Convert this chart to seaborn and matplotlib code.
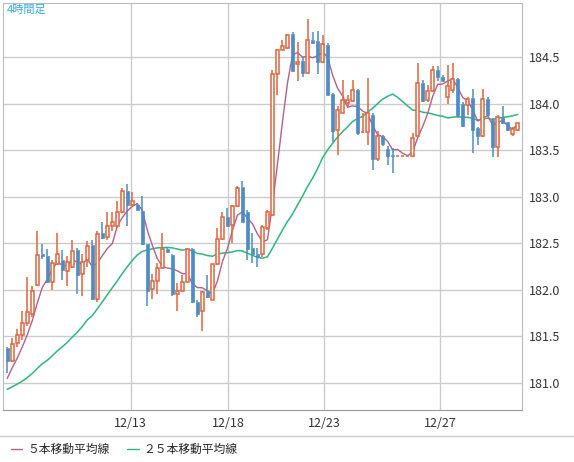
import numpy as np
import pandas as pd
import seaborn as sns
import matplotlib.pyplot as plt
from matplotlib.lines import Line2D

# 4時間足 OHLC
opens = [181.38,181.24,181.43,181.52,181.64,181.74,182.05,182.38,182.36,182.08,
         182.28,182.32,182.20,182.25,182.43,182.17,182.32,182.48,181.90,182.61,
         182.57,182.69,182.68,182.84,183.06,182.91,182.91,182.85,182.49,182.01,
         182.10,182.23,182.44,182.37,181.95,181.99,182.08,182.44,181.87,181.77,
         181.98,181.89,182.28,182.55,182.78,182.70,182.90,183.10,182.84,182.45,
         182.39,182.39,182.66,182.80,184.32,184.58,184.60,184.75,184.42,184.46,
         184.33,184.68,184.67,184.45,184.63,184.10,183.72,183.90,184.01,184.03,
         184.15,183.69,183.69,183.88,183.40,183.65,183.51,183.45,183.44,183.44,
         183.44,183.44,183.65,184.22,184.04,184.13,184.36,184.29,184.07,184.15,
         184.26,184.00,183.98,184.06,183.74,183.65,184.05,183.82,183.53,183.86,
         183.80,183.67,183.72]
highs = [181.39,181.48,181.58,181.77,182.14,182.04,182.63,182.49,182.44,182.32,
         182.61,182.43,182.36,182.54,182.45,182.38,182.52,182.54,182.63,182.73,
         182.84,182.84,182.95,183.09,183.14,183.05,182.93,183.01,182.49,182.17,
         182.29,182.61,182.45,182.38,182.07,182.16,182.45,182.45,181.89,181.99,
         182.16,182.28,182.66,182.84,182.88,182.91,183.12,183.17,182.86,182.61,
         182.45,182.70,182.86,184.36,184.59,184.68,184.75,184.77,184.66,184.50,
         184.91,184.77,184.78,184.74,184.65,184.11,183.97,184.25,184.09,184.25,
         184.16,183.90,184.27,183.90,183.70,183.66,183.54,183.52,183.44,183.44,
         183.44,183.68,184.43,184.25,184.20,184.40,184.40,184.31,184.41,184.43,
         184.27,184.02,184.07,184.16,183.75,184.16,184.07,183.84,183.88,183.97,
         183.80,183.75,183.79]
lows = [181.11,181.23,181.39,181.46,181.61,181.71,182.04,182.33,182.07,182.00,
        182.27,182.11,182.04,182.23,181.95,181.93,182.25,181.89,181.87,182.55,
        182.54,182.63,182.66,182.83,182.68,182.89,182.86,182.48,181.83,181.90,
        181.95,182.22,182.41,181.93,181.77,181.98,182.08,181.86,181.71,181.56,
        181.91,181.89,182.27,182.54,182.69,182.50,182.89,182.73,182.32,182.29,
        182.24,182.35,182.64,182.79,184.09,184.57,184.59,184.35,184.24,184.29,
        184.32,184.65,184.32,184.43,184.09,183.59,183.45,183.90,183.95,184.02,
        183.66,183.68,183.56,183.29,183.38,183.54,183.34,183.25,183.44,183.44,
        183.44,183.43,183.65,184.02,184.02,184.12,184.24,184.24,184.00,184.11,
        183.84,183.75,183.88,183.47,183.55,183.64,183.88,183.43,183.43,183.78,
        183.70,183.65,183.71]
closes = [181.24,181.42,181.52,181.64,181.76,181.99,182.37,182.36,182.08,182.29,
          182.39,182.21,182.30,182.42,182.16,182.30,182.47,181.90,182.60,182.56,
          182.69,182.73,182.84,183.06,182.91,182.95,182.86,182.49,181.99,182.10,
          182.23,182.44,182.41,181.95,181.99,182.08,182.44,181.87,181.74,181.98,
          181.92,182.28,182.55,182.78,182.69,182.90,183.09,182.73,182.44,182.39,
          182.35,182.67,182.84,184.32,184.58,184.62,184.74,184.35,184.45,184.33,
          184.68,184.65,184.45,184.64,184.09,183.71,183.93,184.04,184.04,184.15,
          183.68,183.69,183.90,183.41,183.65,183.57,183.44,183.44,183.44,183.44,
          183.44,183.63,184.22,184.03,184.14,184.36,184.28,184.24,184.19,184.26,
          183.88,183.76,184.05,183.72,183.65,184.05,183.88,183.53,183.86,183.79,
          183.72,183.73,183.79]
# 表示範囲より前の終値（移動平均用）
prev_closes = [180.75,180.8,180.85,180.8,180.9,181.0,181.1,181.15,181.1,181.05,
               181.1,181.15,181.0,180.85,180.75,180.7,180.75,180.8,180.7,180.75,
               180.85,181.0,181.05,181.1]

tick_pos = [25.7, 45.1, 64.3, 87.5]
tick_labels = ["12/13", "12/18", "12/23", "12/27"]

n = len(closes)
idx = np.arange(1, n + 1)
allc = pd.Series(prev_closes + closes)
ma5 = allc.rolling(5).mean().values[-n:]
ma25 = allc.rolling(25).mean().values[-n:]
df = pd.DataFrame({"i": idx, "o": opens, "h": highs, "l": lows, "c": closes,
                   "ma5": ma5, "ma25": ma25})

sns.set_style("white")
plt.rcParams['font.family'] = ['Noto Sans CJK JP', 'DejaVu Sans']

up_col = "#e0653f"
dn_col = "#4d8cc4"
ma5_col = "#b5608f"
ma25_col = "#2fb87c"

fig = plt.figure(figsize=(5.74, 4.62), dpi=100)
ax = fig.add_axes([0.005, 0.1126, 0.904, 0.881])

sns.lineplot(x="i", y="ma25", data=df, ax=ax, color=ma25_col, lw=1.1, zorder=2)
sns.lineplot(x="i", y="ma5", data=df, ax=ax, color=ma5_col, lw=1.0, zorder=2)

w = 0.62
for r in df.itertuples():
    up = r.c >= r.o
    col = up_col if up else dn_col
    lo, hi = min(r.o, r.c), max(r.o, r.c)
    ax.vlines(r.i, r.l, lo, color=col, lw=1.1, zorder=3)
    ax.vlines(r.i, hi, r.h, color=col, lw=1.1, zorder=3)
    if hi - lo < 0.005:
        ax.hlines(r.c, r.i - w / 2, r.i + w / 2, color=col, lw=1.1, zorder=3)
    elif up:
        ax.bar(r.i, hi - lo, bottom=lo, width=w, facecolor="white",
               edgecolor=col, lw=1.1, zorder=4)
    else:
        ax.bar(r.i, hi - lo, bottom=lo, width=w, facecolor=col,
               edgecolor=col, lw=0.5, zorder=4)

ax.set_xlim(0.14, 103.8)
ax.set_ylim(180.71, 185.08)
ax.set_xticks(tick_pos)
ax.set_xticklabels(tick_labels)
ax.set_yticks([181.0, 181.5, 182.0, 182.5, 183.0, 183.5, 184.0, 184.5])
ax.set_yticklabels(["181.0", "181.5", "182.0", "182.5", "183.0", "183.5", "184.0", "184.5"])
ax.yaxis.tick_right()
ax.tick_params(axis="both", length=0, labelsize=9, colors="#333333", pad=5)
ax.grid(True, color="#cccccc", lw=1)
ax.set_xlabel("")
ax.set_ylabel("")
for s in ["top", "left", "right"]:
    ax.spines[s].set_color("#bbbbbb")
ax.spines["bottom"].set_color("#999999")

ax.text(0.008, 0.995, "4時間足", transform=ax.transAxes, ha="left", va="top",
        fontsize=8, color="#30a8e8")

fig.add_artist(Line2D([0, 1], [1 - 436 / 462] * 2, color="#cccccc", lw=1))
handles = [Line2D([], [], color=ma5_col, lw=1), Line2D([], [], color=ma25_col, lw=1)]
fig.legend(handles, ["５本移動平均線", "２５本移動平均線"], loc="lower left",
           bbox_to_anchor=(0.0, -0.01), ncol=2, frameon=False, fontsize=8.5,
           handlelength=1.0, handletextpad=0.4, columnspacing=1.5)

fig.savefig("out.png", dpi=100)
